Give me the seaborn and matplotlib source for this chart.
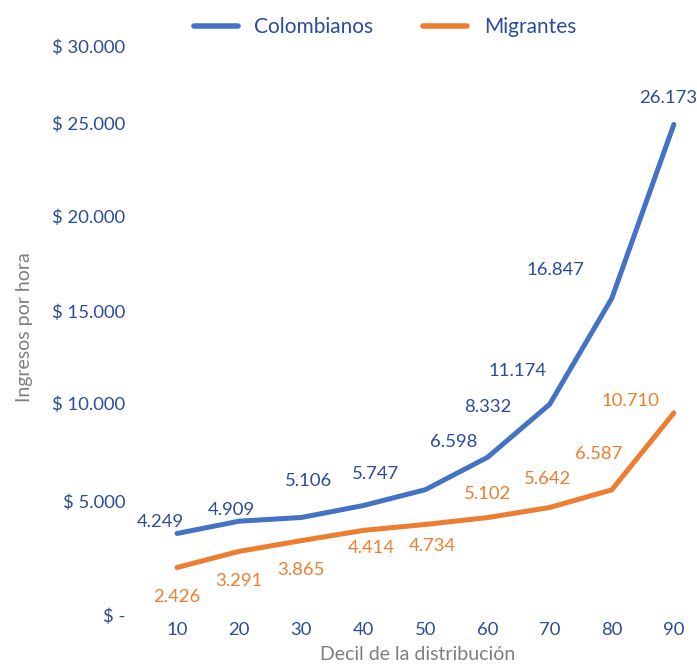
import numpy as np
import pandas as pd
import matplotlib
matplotlib.use("Agg")
import matplotlib.pyplot as plt
import matplotlib.transforms as mtransforms
import seaborn as sns

# data
deciles = [10, 20, 30, 40, 50, 60, 70, 80, 90]
colombianos = [4249, 4909, 5106, 5747, 6598, 8332, 11174, 16847, 26173]
migrantes = [2426, 3291, 3865, 4414, 4734, 5102, 5642, 6587, 10710]
y_ticks = [0, 5000, 10000, 15000, 20000, 25000, 30000]

# label offsets in pixels (dx, dy) relative to each point
col_off = [(-17, 11), (-8, 11), (7, 36), (12, 32), (28, 48), (0, 50), (-32, 33), (-56, 28), (-6, 26)]
mig_off = [(0, -29), (0, -30), (0, -29), (8, -18), (7, -22), (0, 24), (-2, 28), (-13, 36), (-43, 12)]
# tick label vertical nudges (px, up)
tick_nudge = [-2, 18, 23, 22, 23, 23, 7]

blue = "#4472C4"
orange = "#ED7D31"
txt_blue = "#2B4C9B"
grey = "#7F7F7F"

sns.set_style("white")
plt.rcParams['font.family'] = ['Lato', 'DejaVu Sans']

df = pd.DataFrame({
    "decil": deciles * 2,
    "valor": colombianos + migrantes,
    "grupo": ["Colombianos"] * len(deciles) + ["Migrantes"] * len(deciles),
})

fig = plt.figure(figsize=(6.97, 6.66), dpi=100)
ax = fig.add_axes([145 / 697, (666 - 615) / 666, 545 / 697, 575 / 666])

sns.lineplot(data=df, x="decil", y="valor", hue="grupo",
             palette={"Colombianos": blue, "Migrantes": orange},
             linewidth=3.6, ax=ax, legend=True)
for ln in ax.lines:
    ln.set_solid_capstyle("round")
    ln.set_solid_joinstyle("miter")

ax.set_xlim(4.85, 92.6)
ax.set_ylim(-120, 30700)
sns.despine(ax=ax, left=True, bottom=True)

fs = 13.3
ax.set_xticks(deciles)
ax.set_xticklabels([str(d) for d in deciles], color=txt_blue, fontsize=fs)
ax.set_yticks(y_ticks)
ax.set_yticklabels(["$ -"] + ["$ " + f"{v:,}".replace(",", ".") for v in y_ticks[1:]],
                   color=txt_blue, fontsize=fs)
ax.tick_params(axis="y", length=0, pad=14)
ax.tick_params(axis="x", length=0, pad=5)
for lab, dy in zip(ax.get_yticklabels(), tick_nudge):
    lab.set_transform(lab.get_transform() + mtransforms.ScaledTranslation(0, dy / 100, fig.dpi_scale_trans))

ax.set_xlabel("Decil de la distribución", color=grey, fontsize=14, labelpad=6)
ax.set_ylabel("Ingresos por hora", color=grey, fontsize=14, labelpad=14)

def fmt(v):
    return f"{v:,}".replace(",", ".")

for x, v, (dx, dy) in zip(deciles, colombianos, col_off):
    ax.annotate(fmt(v), (x, v), xytext=(dx * 0.72, dy * 0.72), textcoords="offset points",
                ha="center", va="center", color=txt_blue, fontsize=fs)
for x, v, (dx, dy) in zip(deciles, migrantes, mig_off):
    ax.annotate(fmt(v), (x, v), xytext=(dx * 0.72, dy * 0.72), textcoords="offset points",
                ha="center", va="center", color=orange, fontsize=fs)

leg = ax.legend(loc="center", bbox_to_anchor=(385 / 697, 1 - 27 / 666),
                bbox_transform=fig.transFigure, ncol=2, frameon=False,
                handlelength=2.1, handletextpad=0.8, columnspacing=2.4, fontsize=15)
for t in leg.get_texts():
    t.set_color(txt_blue)
for h in leg.get_lines():
    h.set_linewidth(4)
    h.set_solid_capstyle("round")

fig.savefig("out.png", dpi=100)
